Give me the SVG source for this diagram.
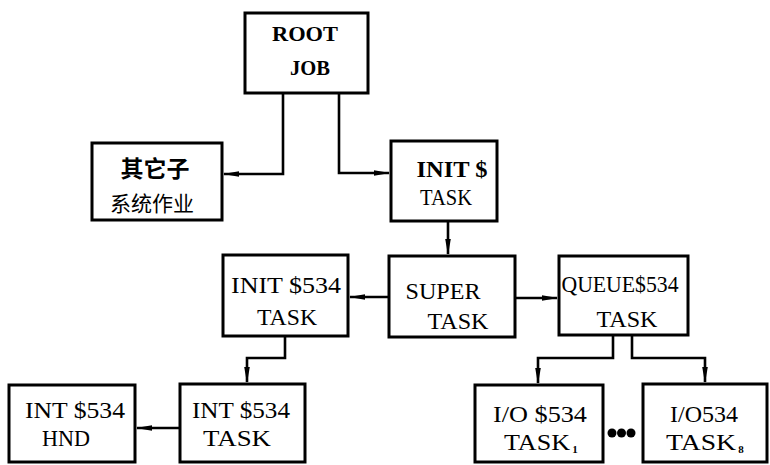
<svg xmlns="http://www.w3.org/2000/svg" width="770" height="465" viewBox="0 0 770 465">
<defs>
<marker id="ah" markerUnits="userSpaceOnUse" markerWidth="16" markerHeight="8" viewBox="0 0 16 8" refX="15" refY="4" orient="auto">
<path d="M0,1.2 L16,4 L0,6.8 z" fill="#000"/>
</marker>
<style>
.box{fill:#fff;stroke:#000;stroke-width:3}
.t{font-family:"Liberation Serif","DejaVu Serif",serif;font-size:23px;fill:#000;text-anchor:middle}
.b{font-weight:bold}
.r{font-size:20px}
.sub{font-size:11px;font-weight:bold}
.cjk{font-family:"Noto Sans CJK SC","Noto Sans CJK JP",sans-serif;fill:#000;text-anchor:middle}
.c{fill:none;stroke:#000;stroke-width:2.6;marker-end:url(#ah)}
</style>
</defs>
<rect width="770" height="465" fill="#fff"/>
<g id="connectors">
<path class="c" d="M283,94 V174 H224"/>
<path class="c" d="M339,94 V173 H389"/>
<path class="c" d="M448,221 V254"/>
<path class="c" d="M389,297 H350"/>
<path class="c" d="M514,298 H557"/>
<path class="c" d="M285,336 V358 H247 V382"/>
<path class="c" d="M180,428 H137"/>
<path class="c" d="M613,335 V358 H538 V383"/>
<path class="c" d="M632,335 V358 H705 V382"/>
</g>
<g id="root">
<rect class="box" x="245" y="13" width="123" height="80"/>
<text class="t b r" x="305" y="41" textLength="66" lengthAdjust="spacingAndGlyphs">ROOT</text>
<text class="t b r" x="310" y="75" textLength="40" lengthAdjust="spacingAndGlyphs">JOB</text>
</g>
<g id="other">
<rect class="box" x="92" y="143" width="130" height="77"/>
<text class="cjk" x="155" y="177" font-size="23" font-weight="bold">其它子</text>
<text class="cjk" x="152" y="211" font-size="21">系统作业</text>
</g>
<g id="init">
<rect class="box" x="391" y="141" width="106" height="80"/>
<text class="t b" x="452" y="177" textLength="71" lengthAdjust="spacingAndGlyphs">INIT $</text>
<text class="t" x="446" y="205" textLength="52" lengthAdjust="spacingAndGlyphs">TASK</text>
</g>
<g id="init534">
<rect class="box" x="223" y="255" width="125" height="81"/>
<text class="t" x="286" y="293" textLength="110" lengthAdjust="spacingAndGlyphs">INIT $534</text>
<text class="t" x="287" y="325" textLength="60" lengthAdjust="spacingAndGlyphs">TASK</text>
</g>
<g id="super">
<rect class="box" x="389" y="256" width="126" height="81"/>
<text class="t" x="443" y="299" textLength="75" lengthAdjust="spacingAndGlyphs">SUPER</text>
<text class="t" x="458" y="329" textLength="61" lengthAdjust="spacingAndGlyphs">TASK</text>
</g>
<g id="queue">
<rect class="box" x="559" y="256" width="129" height="79"/>
<text class="t" x="620" y="292" textLength="117" lengthAdjust="spacingAndGlyphs">QUEUE$534</text>
<text class="t" x="627" y="327" textLength="61" lengthAdjust="spacingAndGlyphs">TASK</text>
</g>
<g id="hnd">
<rect class="box" x="9" y="385" width="126" height="77"/>
<text class="t" x="75" y="418" textLength="100" lengthAdjust="spacingAndGlyphs">INT $534</text>
<text class="t" x="66" y="446" textLength="48" lengthAdjust="spacingAndGlyphs">HND</text>
</g>
<g id="inttask">
<rect class="box" x="180" y="384" width="125" height="78"/>
<text class="t" x="241" y="418" textLength="98" lengthAdjust="spacingAndGlyphs">INT $534</text>
<text class="t" x="237" y="446" textLength="68" lengthAdjust="spacingAndGlyphs">TASK</text>
</g>
<g id="io1">
<rect class="box" x="475" y="385" width="128" height="77"/>
<text class="t" x="540" y="422" textLength="94" lengthAdjust="spacingAndGlyphs">I/O $534</text>
<text class="t" x="537" y="450" textLength="66" lengthAdjust="spacingAndGlyphs">TASK</text>
<text class="t sub" x="575" y="453">1</text>
</g>
<g id="io8">
<rect class="box" x="643" y="384" width="124" height="78"/>
<text class="t" x="701" y="450" textLength="70" lengthAdjust="spacingAndGlyphs">TASK</text>
<text class="t" x="704" y="422" textLength="68" lengthAdjust="spacingAndGlyphs">I/O534</text>
<text class="t sub" x="741" y="453">8</text>
</g>
<g id="dots">
<circle cx="612" cy="433" r="4.5"/>
<circle cx="621.5" cy="433" r="4.5"/>
<circle cx="631" cy="433" r="4.5"/>
</g>
</svg>
